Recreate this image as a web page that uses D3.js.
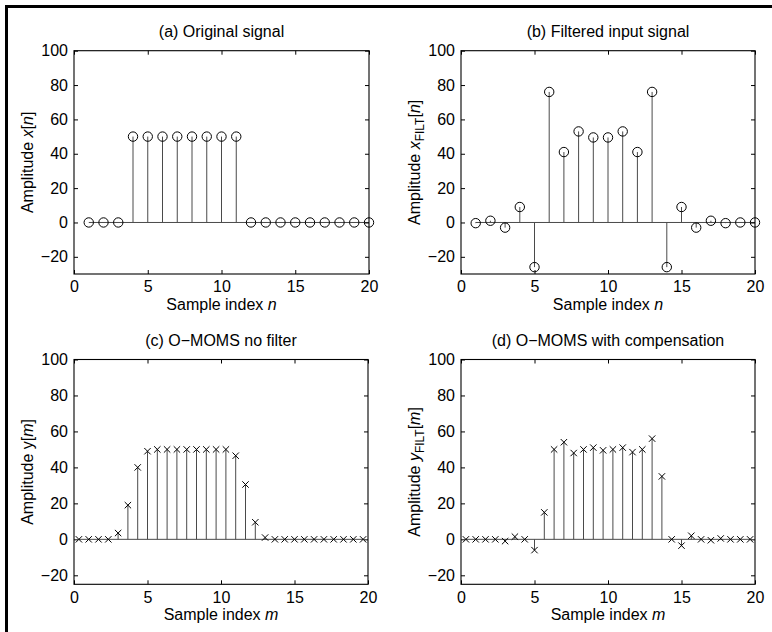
<!DOCTYPE html>
<html><head><meta charset="utf-8">
<script src="https://cdn.jsdelivr.net/npm/d3@7/dist/d3.min.js"></script>
<style>
body{margin:0;background:#fff}
svg{display:block}
text{font-family:"Liberation Sans",Arial,Helvetica,sans-serif;fill:#000}
</style>
</head><body>
<svg id="chart" width="772" height="632"></svg>
<script>
// ---------- data ----------
const nPositions = [1,2,3,4,5,6,7,8,9,10,11,12,13,14,15,16,17,18,19,20];
const mPositions = [1/3,3/3,5/3,7/3,9/3,11/3,13/3,15/3,17/3,19/3,21/3,23/3,25/3,27/3,29/3,31/3,33/3,35/3,37/3,39/3,41/3,43/3,45/3,47/3,49/3,51/3,53/3,55/3,57/3,59/3];
const originalSignal   = [0,0,0,50,50,50,50,50,50,50,50,0,0,0,0,0,0,0,0,0];
const filteredInput    = [-0.4,1,-3,9,-26,76,41,53,49.5,49.5,53,41,76,-26,9,-3,1,-0.4,0,0];
const omomsNoFilter    = [0,0,0,0,3.5,19,40,49,50,50,50,50,50,50,50,50,46.5,30.5,9.5,1,0,0,0,0,0,0,0,0,0,0];
const omomsCompensated = [0,0,0,0,-1,1.5,0,-6,15,50,54,48,50,51,49.5,50,51,48.5,50,56,35,0,-3.5,2,0,-0.5,0.5,0,0,0];
const xTicks = [0,5,10,15,20];
const yTicks = [-20,0,20,40,60,80,100];
const panelTitles = ["(a) Original signal","(b) Filtered input signal","(c) O\u2212MOMS no filter","(d) O\u2212MOMS with compensation"];

// ---------- layout ----------
const svg = d3.select("#chart");
svg.append("rect").attr("width",772).attr("height",632).attr("fill","#fff");
svg.append("rect").attr("x",5).attr("y",5).attr("width",3).attr("height",627).attr("fill","#000");
svg.append("rect").attr("x",5).attr("y",5).attr("width",767).attr("height",3).attr("fill","#000");

const FS = 16;
const panels = [
  {l:74, r:369, t:50.7, b:274, yd:[-30,100], xs:nPositions, ys:originalSignal, marker:"o",
   ylab:[["Amplitude ",""],["x","i"],["[",""],["n","i"],["]",""]], xl:"n"},
  {l:461, r:755, t:50.7, b:274, yd:[-30,100], xs:nPositions, ys:filteredInput, marker:"o",
   ylab:[["Amplitude ",""],["x","i"],["FILT","sub"],["[","up"],["n","i"],["]",""]], xl:"n"},
  {l:74, r:368, t:359.5, b:584.3, yd:[-25,100], xs:mPositions, ys:omomsNoFilter, marker:"x",
   ylab:[["Amplitude y[",""],["m","i"],["]",""]], xl:"m"},
  {l:461, r:755, t:359.5, b:584.3, yd:[-25,100], xs:mPositions, ys:omomsCompensated, marker:"x",
   ylab:[["Amplitude ",""],["y","i"],["FILT","sub"],["[","up"],["m","i"],["]",""]], xl:"m"}
];

panels.forEach((p,pi)=>{
  const x = d3.scaleLinear().domain([0,20]).range([p.l,p.r]);
  const y = d3.scaleLinear().domain(p.yd).range([p.b,p.t]);
  const g = svg.append("g");
  const pts = p.xs.map((v,i)=>({x:v,y:p.ys[i]}));

  // baseline
  g.append("line")
    .attr("x1",x(p.xs[0])).attr("x2",x(p.xs[p.xs.length-1]))
    .attr("y1",y(0)).attr("y2",y(0))
    .attr("stroke","#4a4a4a").attr("stroke-width",1);
  // stems
  g.selectAll("line.stem").data(pts).enter().append("line").attr("class","stem")
    .attr("x1",d=>x(d.x)).attr("x2",d=>x(d.x))
    .attr("y1",y(0)).attr("y2",d=>y(d.y))
    .attr("stroke","#4a4a4a").attr("stroke-width",1);
  // markers
  if(p.marker==="o"){
    g.selectAll("circle").data(pts).enter().append("circle")
      .attr("cx",d=>x(d.x)).attr("cy",d=>y(d.y)).attr("r",4.7)
      .attr("fill","none").attr("stroke","#000").attr("stroke-width",1);
  } else {
    const s=3.2;
    g.selectAll("path.mk").data(pts).enter().append("path").attr("class","mk")
      .attr("d",d=>{const cx=x(d.x), cy=y(d.y);
        return `M${cx-s},${cy-s}L${cx+s},${cy+s}M${cx-s},${cy+s}L${cx+s},${cy-s}`;})
      .attr("stroke","#000").attr("stroke-width",1).attr("fill","none");
  }

  // axes (inward ticks on all four sides)
  const tl=-4;
  const ax = [
    g.append("g").attr("transform",`translate(0,${p.b})`).call(d3.axisBottom(x).tickValues(xTicks).tickSize(tl)),
    g.append("g").attr("transform",`translate(0,${p.t})`).call(d3.axisTop(x).tickValues(xTicks).tickSize(tl).tickFormat("")),
    g.append("g").attr("transform",`translate(${p.l},0)`).call(d3.axisLeft(y).tickValues(yTicks).tickSize(tl).tickPadding(6).tickFormat(d=>d<0?"\u2212"+Math.abs(d):d)),
    g.append("g").attr("transform",`translate(${p.r},0)`).call(d3.axisRight(y).tickValues(yTicks).tickSize(tl).tickFormat(""))
  ];
  ax.forEach(a=>{
    a.select(".domain").remove();
    a.selectAll("text").style("font-size",FS+"px").attr("fill","#000");
    a.selectAll("line").attr("stroke","#000");
  });
  ax[0].selectAll("text").attr("dy","0.71em").attr("y",7);
  // box
  g.append("rect").attr("x",p.l).attr("y",p.t).attr("width",p.r-p.l).attr("height",p.b-p.t)
    .attr("fill","none").attr("stroke","#000").attr("stroke-width",1.1);

  const cx=(p.l+p.r)/2, cy=(p.t+p.b)/2;
  // title
  g.append("text").attr("x",cx).attr("y",p.t-14).attr("text-anchor","middle")
    .style("font-size",FS+"px").text(panelTitles[pi]);
  // x label
  const xt = g.append("text").attr("x",cx).attr("y",p.b+36).attr("text-anchor","middle").style("font-size",FS+"px");
  xt.append("tspan").text("Sample index ");
  xt.append("tspan").attr("font-style","italic").text(p.xl);
  // y label
  const yt = g.append("text").attr("transform",`translate(${p.l-41},${cy}) rotate(-90)`)
    .attr("text-anchor","middle").style("font-size",FS+"px");
  p.ylab.forEach(([t,k])=>{
    const ts = yt.append("tspan").text(t);
    if(k==="i") ts.attr("font-style","italic");
    if(k==="sub") ts.attr("dy",4).style("font-size","12px");
    if(k==="up") ts.attr("dy",-4);
  });
});
</script>
</body></html>
